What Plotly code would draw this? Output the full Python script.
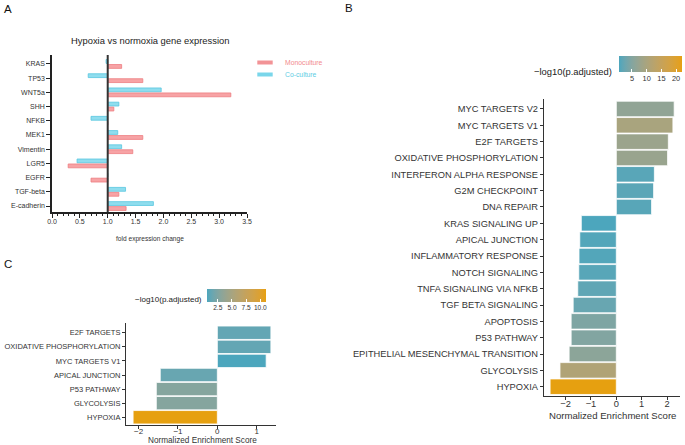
import plotly.graph_objects as go

W, H = 685, 445
FONT = "Liberation Sans, Arial, sans-serif"

# ---------------- data ----------------
# Panel A: fold expression change (hypoxia vs normoxia)
genes = ["KRAS", "TP53", "WNT5a", "SHH", "NFKB", "MEK1", "Vimentin",
         "LGR5", "EGFR", "TGF-beta", "E-cadherin"]
mono = [1.25, 1.63, 3.21, 1.11, 1.00, 1.63, 1.45, 0.29, 0.70, 1.20, 1.33]
co = [0.97, 0.65, 1.96, 1.20, 0.70, 1.18, 1.25, 0.45, 1.00, 1.32, 1.82]
BASE = 1.0
a_xticks = [0.0, 0.5, 1.0, 1.5, 2.0, 2.5, 3.0, 3.5]

# Panel B
terms_b = ["MYC TARGETS V2", "MYC TARGETS V1", "E2F TARGETS",
           "OXIDATIVE PHOSPHORYLATION", "INTERFERON ALPHA RESPONSE",
           "G2M CHECKPOINT", "DNA REPAIR", "KRAS SIGNALING UP",
           "APICAL JUNCTION", "INFLAMMATORY RESPONSE", "NOTCH SIGNALING",
           "TNFA SIGNALING VIA NFKB", "TGF BETA SIGNALING", "APOPTOSIS",
           "P53 PATHWAY", "EPITHELIAL MESENCHYMAL TRANSITION", "GLYCOLYSIS",
           "HYPOXIA"]
nes_b = [2.28, 2.23, 2.05, 2.02, 1.50, 1.47, 1.39, -1.38, -1.44, -1.47,
         -1.48, -1.52, -1.70, -1.78, -1.78, -1.86, -2.22, -2.61]
logp_b = [6.5, 10.0, 7.8, 7.6, 1.4, 1.5, 1.3, 0.6, 1.0, 1.0, 1.3, 1.8,
          2.4, 4.4, 4.8, 6.0, 11.0, 22.0]
b_cticks = [5, 10, 15, 20]

# Panel C
terms_c = ["E2F TARGETS", "OXIDATIVE PHOSPHORYLATION", "MYC TARGETS V1",
           "APICAL JUNCTION", "P53 PATHWAY", "GLYCOLYSIS", "HYPOXIA"]
nes_c = [1.36, 1.36, 1.24, -1.45, -1.55, -1.55, -2.14]
logp_c = [1.3, 1.3, 0.6, 1.5, 2.8, 2.8, 11.0]
c_cticks = [2.5, 5.0, 7.5, 10.0]

# ---------------- colour scale (Lab interpolation like ggplot) ----------------
LOW, HIGH = "#4CA6BD", "#E6A010"


def _hex(h):
    h = h.lstrip("#")
    return [int(h[i:i + 2], 16) for i in (0, 2, 4)]


def _lin(c):
    c = c / 255
    return c / 12.92 if c <= 0.04045 else ((c + 0.055) / 1.055) ** 2.4


def _gam(c):
    c = 12.92 * c if c <= 0.0031308 else 1.055 * c ** (1 / 2.4) - 0.055
    return max(0, min(255, round(c * 255)))


def rgb2lab(rgb):
    r, g, b = [_lin(c) for c in rgb]
    X = (0.4124564 * r + 0.3575761 * g + 0.1804375 * b) / 0.95047
    Y = (0.2126729 * r + 0.7151522 * g + 0.0721750 * b)
    Z = (0.0193339 * r + 0.1191920 * g + 0.9503041 * b) / 1.08883
    f = lambda t: t ** (1 / 3) if t > 0.008856 else 7.787 * t + 16 / 116
    fx, fy, fz = f(X), f(Y), f(Z)
    return [116 * fy - 16, 500 * (fx - fy), 200 * (fy - fz)]


def lab2rgb(lab):
    L, a, b = lab
    fy = (L + 16) / 116
    fx = fy + a / 500
    fz = fy - b / 200
    fi = lambda t: t ** 3 if t ** 3 > 0.008856 else (t - 16 / 116) / 7.787
    X, Y, Z = fi(fx) * 0.95047, fi(fy), fi(fz) * 1.08883
    r = 3.2404542 * X - 1.5371385 * Y - 0.4985314 * Z
    g = -0.9692660 * X + 1.8760108 * Y + 0.0415560 * Z
    bb = 0.0556434 * X - 0.2040259 * Y + 1.0572252 * Z
    return "rgb(%d,%d,%d)" % (_gam(r), _gam(g), _gam(bb))


l0, l1 = rgb2lab(_hex(LOW)), rgb2lab(_hex(HIGH))
N = 20
cscale = [[i / N, lab2rgb([l0[k] + (l1[k] - l0[k]) * i / N for k in range(3)])]
          for i in range(N + 1)]

# ---------------- helpers ----------------
px = lambda x: x / W
py = lambda y: 1 - y / H
TXT = "#333333"
AX = "#333333"

fig = go.Figure()

# Panel A bars
fig.add_trace(go.Bar(
    y=genes, x=[v - BASE for v in co], base=BASE, orientation="h",
    offset=-0.31, width=0.27, xaxis="x", yaxis="y",
    marker=dict(color="#8FDDEE", line=dict(color="#58C6E0", width=0.8)),
    showlegend=False, name="Co-culture"))
fig.add_trace(go.Bar(
    y=genes, x=[v - BASE for v in mono], base=BASE, orientation="h",
    offset=0.04, width=0.27, xaxis="x", yaxis="y",
    marker=dict(color="#F7A3A5", line=dict(color="#EE7E82", width=0.8)),
    showlegend=False, name="Monoculture"))
# legend keys
fig.add_trace(go.Scatter(
    x=[None], y=[None], mode="markers", name="Monoculture",
    xaxis="x", yaxis="y", legend="legend",
    marker=dict(symbol="line-ew", size=11,
                line=dict(color="#F29396", width=4))))
fig.add_trace(go.Scatter(
    x=[None], y=[None], mode="markers", name="Co-culture",
    xaxis="x", yaxis="y", legend="legend2",
    marker=dict(symbol="line-ew", size=11,
                line=dict(color="#7AD6EA", width=4))))

# Panel B bars
fig.add_trace(go.Bar(
    y=terms_b, x=nes_b, orientation="h", width=0.95, xaxis="x2", yaxis="y2",
    marker=dict(color=logp_b, coloraxis="coloraxis",
                line=dict(color="white", width=0.8)),
    showlegend=False))

# Panel C bars
fig.add_trace(go.Bar(
    y=terms_c, x=nes_c, orientation="h", width=0.95, xaxis="x3", yaxis="y3",
    marker=dict(color=logp_c, coloraxis="coloraxis2",
                line=dict(color="white", width=0.8)),
    showlegend=False))

# reference line at fold change = 1 in panel A
fig.add_shape(type="line", xref="x", yref="y domain", x0=BASE, x1=BASE,
              y0=0, y1=1, line=dict(color="#333333", width=2))


def cat_axis(domain, cats, rng, size, anchor):
    return dict(domain=domain, type="category", categoryorder="array",
                categoryarray=cats, range=rng, showline=True, linecolor=AX,
                linewidth=1.2, ticks="outside", ticklen=3, tickcolor=AX,
                tickfont=dict(size=size, color=TXT), automargin=False,
                showgrid=False, zeroline=False, anchor=anchor, fixedrange=True)


fig.update_layout(
    width=W, height=H, margin=dict(l=0, r=0, t=0, b=0, autoexpand=False),
    paper_bgcolor="white", plot_bgcolor="white",
    font=dict(family=FONT, color="#222"),
    barmode="overlay",
    # ---- panel A
    xaxis=dict(domain=[px(52), px(247)], range=[0, 3.5], tickvals=a_xticks,
               tickformat=".1f", showline=True, linecolor="#222", linewidth=1.5,
               ticks="outside", ticklen=4, tickwidth=1.2, tickcolor="#222",
               minor=dict(dtick=0.1, ticks="outside", ticklen=2.5,
                          tickcolor="#222", tickwidth=1),
               tickfont=dict(size=7, color="#333"), showgrid=False,
               zeroline=False, anchor="y", automargin=False,
               ticklabelstandoff=-2),
    yaxis=dict(cat_axis([py(212), py(55)], genes, [10.42, -0.63], 7, "x"),
               linecolor="#222", linewidth=1.5, tickcolor="#222", ticklen=4),
    # ---- panel B
    xaxis2=dict(domain=[px(544), px(680)], range=[-2.85, 2.51],
                tickvals=[-2, -1, 0, 1, 2], showline=True, linecolor=AX,
                linewidth=1.2, ticks="outside", ticklen=3, tickcolor=AX,
                tickfont=dict(size=9.3, color=TXT), showgrid=False,
                zeroline=False, anchor="y2", automargin=False,
                ticklabelstandoff=-4),
    yaxis2=cat_axis([py(395.7), py(99)], terms_b, [17.55, -0.61], 9.3, "x2"),
    # ---- panel C
    xaxis3=dict(domain=[px(126), px(276)], range=[-2.32, 1.49],
                tickvals=[-2, -1, 0, 1], showline=True, linecolor=AX,
                linewidth=1.2, ticks="outside", ticklen=3, tickcolor=AX,
                tickfont=dict(size=8, color=TXT), showgrid=False,
                zeroline=False, anchor="y3", automargin=False,
                ticklabelstandoff=-5),
    yaxis3=cat_axis([py(425), py(323.3)], terms_c, [6.55, -0.67], 7.5, "x3"),
    # ---- colour axes
    coloraxis=dict(colorscale=cscale, cmin=min(logp_b), cmax=max(logp_b),
                   colorbar=dict(orientation="h", x=px(650.5), xanchor="center",
                                 y=py(56), yanchor="top", len=63,
                                 lenmode="pixels", thickness=16,
                                 thicknessmode="pixels", tickvals=b_cticks,
                                 ticks="inside", ticklen=3, tickcolor="white",
                                 outlinewidth=0, xpad=0, ypad=0,
                                 tickfont=dict(size=7.4, color=TXT))),
    coloraxis2=dict(colorscale=cscale, cmin=min(logp_c), cmax=max(logp_c),
                    colorbar=dict(orientation="h", x=px(236.5), xanchor="center",
                                  y=py(289), yanchor="top", len=59,
                                  lenmode="pixels", thickness=13,
                                  thicknessmode="pixels", tickvals=c_cticks,
                                  tickformat=".1f",
                                  ticks="inside", ticklen=3, tickcolor="white",
                                  outlinewidth=0, xpad=0, ypad=0,
                                  tickfont=dict(size=6.6, color=TXT))),
    legend=dict(x=px(245), y=py(62.5), xanchor="left", yanchor="middle",
                bgcolor="rgba(0,0,0,0)", borderwidth=0,
                font=dict(size=6.8, color="#F28A8E"), itemwidth=30),
    legend2=dict(x=px(245), y=py(74.5), xanchor="left", yanchor="middle",
                 bgcolor="rgba(0,0,0,0)", borderwidth=0,
                 font=dict(size=6.8, color="#5ECDE4"), itemwidth=30),
)

ann = [
    dict(text="A", x=7.5, y=9, size=11.5, color="#111", anchor="center"),
    dict(text="B", x=349, y=8, size=11.5, color="#111", anchor="center"),
    dict(text="C", x=7.5, y=264, size=11.5, color="#111", anchor="center"),
    dict(text="Hypoxia vs normoxia gene expression", x=150, y=41, size=9.4,
         color="#222", anchor="center"),
    dict(text="fold expression change", x=150, y=239, size=6.6,
         color="#333", anchor="center"),
    dict(text="Normalized Enrichment Score", x=612, y=415, size=9.6,
         color="#333", anchor="center"),
    dict(text="Normalized Enrichment Score", x=202, y=440.5, size=8.2,
         color="#333", anchor="center"),
    dict(text="−log10(p.adjusted)", x=614, y=71.5, size=9.4, color="#222",
         anchor="right"),
    dict(text="−log10(p.adjusted)", x=204, y=299, size=8, color="#222",
         anchor="right"),
]
for a in ann:
    fig.add_annotation(text=a["text"], x=px(a["x"]), y=py(a["y"]),
                       xref="paper", yref="paper", showarrow=False,
                       xanchor=a["anchor"], yanchor="middle",
                       font=dict(size=a["size"], color=a["color"]))

fig.write_html("out.html", config={"displayModeBar": False},
               post_script="document.body.style.margin='0';"
                           "document.body.style.overflow='hidden';")
